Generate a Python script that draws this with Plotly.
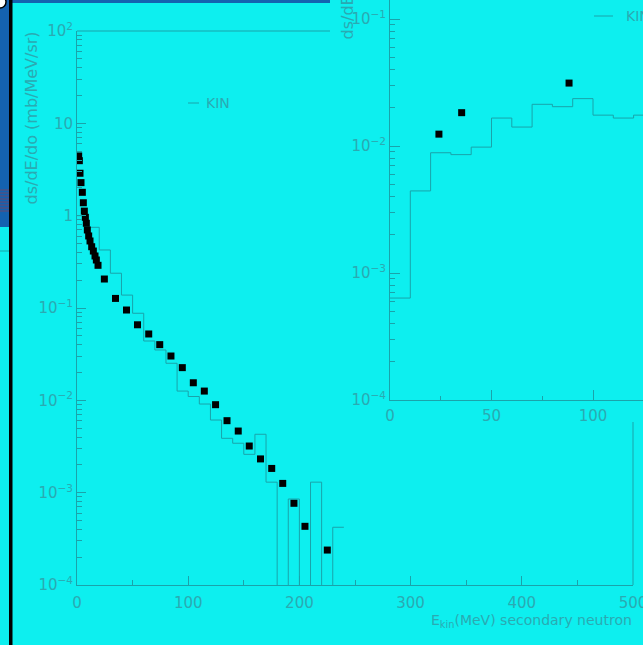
import plotly.graph_objects as go

# ---------------- data ----------------
# main panel: KIN histogram (10 MeV bins, 0..240 MeV), 0 = empty bin
main_bin_edges = list(range(0, 250, 10))
main_hist = [1.0, 0.748, 0.425, 0.238, 0.138, 0.0877, 0.0439, 0.0351, 0.0252,
             0.0126, 0.0110, 0.00912, 0.00612, 0.00388, 0.00343, 0.00260,
             0.00429, 0.00130, 0, 8.54e-4, 0, 0.00130, 0, 4.22e-4]
# main panel: measured points
main_E = [1.5, 2.1, 2.7, 3.6, 4.8, 5.7, 6.6, 7.5, 8.4, 9.3, 10.5, 11.7, 13.2,
          14.7, 16.2, 17.4, 18.9, 24.6, 34.6, 44.5, 54.4, 64.5, 74.4, 84.5,
          94.7, 104.6, 114.5, 124.6, 134.9, 145, 154.9, 165, 175.1, 185,
          195.1, 205, 225.1]
main_val = [4.43, 3.94, 2.88, 2.28, 1.79, 1.38, 1.12, 0.96, 0.827, 0.70,
            0.603, 0.532, 0.461, 0.414, 0.366, 0.331, 0.290, 0.206, 0.127,
            0.0951, 0.0658, 0.0523, 0.0401, 0.0302, 0.0226, 0.0155, 0.0126,
            0.00897, 0.00602, 0.00465, 0.00320, 0.00232, 0.00183, 0.00126,
            7.67e-4, 4.32e-4, 2.39e-4]
# inset panel
inset_bin_edges = list(range(0, 140, 10))
inset_hist = [6.35e-4, 4.43e-3, 8.85e-3, 8.55e-3, 9.8e-3, 1.66e-2, 1.41e-2,
              2.13e-2, 2.04e-2, 2.36e-2, 1.75e-2, 1.66e-2, 1.75e-2]
inset_E = [24.1, 35.3, 88.2]
inset_val = [1.24e-2, 1.83e-2, 3.13e-2]

main_x_ticks = [0, 100, 200, 300, 400, 500]
main_x_minor = [50, 150, 250, 350, 450]
main_y_ticks = [1e-4, 1e-3, 1e-2, 1e-1, 1, 10, 100]
main_y_labels = ["10<sup>−4</sup>", "10<sup>−3</sup>", "10<sup>−2</sup>",
                 "10<sup>−1</sup>", "1", "10", "10<sup>2</sup>"]
inset_x_ticks = [0, 50, 100]
inset_x_minor = [25, 75, 125]
inset_y_ticks = [1e-4, 1e-3, 1e-2, 1e-1]
inset_y_labels = ["10<sup>−4</sup>", "10<sup>−3</sup>", "10<sup>−2</sup>",
                  "10<sup>−1</sup>"]
y_title = "ds/dE/do (mb/MeV/sr)"
x_title = "E<sub>kin</sub>(MeV) secondary neutron"
legend_label = "KIN"

# ---------------- style ----------------
W, H = 643, 645
BG = "#0DEFEF"
LINE = "#1AA3AA"
TEXT = "#2AAAB2"
BLUE = "#1462B0"
FONT = "DejaVu Sans"


def px(x):
    return x / W


def py(y):
    return 1 - y / H


def step(edges, vals):
    ys = [v if v > 0 else 1e-12 for v in vals]
    return edges, ys + [ys[-1]]


minor_log = [m * 10 ** e for e in range(-5, 3) for m in range(2, 10)]

fig = go.Figure()

hx, hy = step(main_bin_edges, main_hist)
fig.add_trace(go.Scatter(x=hx, y=hy, mode="lines", line=dict(shape="hv", color=LINE, width=1),
                         xaxis="x", yaxis="y", showlegend=False, hoverinfo="skip"))
fig.add_trace(go.Scatter(x=main_E, y=main_val, mode="markers",
                         marker=dict(symbol="square", size=7, color="black"),
                         xaxis="x", yaxis="y", showlegend=False))

ix, iy = step(inset_bin_edges, inset_hist)
fig.add_trace(go.Scatter(x=ix, y=iy, mode="lines", line=dict(shape="hv", color=LINE, width=1),
                         xaxis="x2", yaxis="y2", showlegend=False, hoverinfo="skip"))
fig.add_trace(go.Scatter(x=inset_E, y=inset_val, mode="markers",
                         marker=dict(symbol="square", size=7, color="black"),
                         xaxis="x2", yaxis="y2", showlegend=False))

tickfont = dict(family=FONT, size=15, color=TEXT)

fig.update_layout(
    width=W, height=H, margin=dict(l=0, r=0, t=0, b=0, autoexpand=False),
    paper_bgcolor=BG, plot_bgcolor="rgba(0,0,0,0)",
    xaxis=dict(domain=[px(77), px(633)], range=[0, 500], anchor="y", automargin=False,
               showgrid=False, zeroline=False, showline=True, linecolor=LINE, linewidth=1,
               ticks="inside", ticklen=9, tickcolor=LINE, tickvals=main_x_ticks,
               ticktext=[str(v) for v in main_x_ticks], tickfont=tickfont,
               ticklabelstandoff=4, ticklabeloverflow="allow",
               minor=dict(tickmode="array", tickvals=main_x_minor, ticks="inside",
                          ticklen=5, tickcolor=LINE, showgrid=False)),
    yaxis=dict(domain=[py(585), py(31)], type="log", range=[-4, 2], anchor="x", automargin=False,
               showgrid=False, zeroline=False, showline=True, linecolor=LINE, linewidth=1,
               ticks="inside", ticklen=9, tickcolor=LINE, tickvals=main_y_ticks,
               ticktext=main_y_labels, tickfont=tickfont, ticklabeloverflow="allow",
               minor=dict(tickmode="array", tickvals=minor_log, ticks="inside",
                          ticklen=5, tickcolor=LINE, showgrid=False)),
    xaxis2=dict(domain=[px(390), 1], range=[0, (W - 390) / 2.03], anchor="y2", automargin=False,
                showgrid=False, zeroline=False, showline=True, linecolor=LINE, linewidth=1,
                ticks="inside", ticklen=10, tickcolor=LINE, tickvals=inset_x_ticks,
                ticktext=[str(v) for v in inset_x_ticks], tickfont=tickfont,
                ticklabelstandoff=2, ticklabeloverflow="allow",
                minor=dict(tickmode="array", tickvals=inset_x_minor, ticks="inside",
                           ticklen=4, tickcolor=LINE, showgrid=False)),
    yaxis2=dict(domain=[py(400), 1], type="log", range=[-4, -1 + 19 / 127], anchor="x2",
                automargin=False, ticklabeloverflow="allow",
                showgrid=False, zeroline=False, showline=True, linecolor=LINE, linewidth=1,
                ticks="inside", ticklen=10, tickcolor=LINE, tickvals=inset_y_ticks,
                ticktext=inset_y_labels, tickfont=tickfont,
                minor=dict(tickmode="array", tickvals=minor_log, ticks="inside",
                           ticklen=5, tickcolor=LINE, showgrid=False)),
)

shapes = []
# slide decorations
shapes.append(dict(type="rect", xref="paper", yref="paper", x0=0, x1=px(9), y0=py(227), y1=1,
                   fillcolor=BLUE, line=dict(width=0), layer="below"))
shapes.append(dict(type="rect", xref="paper", yref="paper", x0=0, x1=px(330), y0=py(3), y1=1,
                   fillcolor=BLUE, line=dict(width=0), layer="below"))
for yy in [190, 193, 196, 199, 202, 205, 208, 211]:
    shapes.append(dict(type="line", xref="paper", yref="paper", x0=0, x1=px(9),
                       y0=py(yy), y1=py(yy), line=dict(color="#5A4E7A", width=1.2), layer="below"))
shapes.append(dict(type="line", xref="paper", yref="paper", x0=0, x1=px(9), y0=py(251), y1=py(251),
                   line=dict(color=LINE, width=1), layer="below"))
shapes.append(dict(type="rect", xref="paper", yref="paper", x0=px(9), x1=px(12.5), y0=0, y1=1,
                   fillcolor="black", line=dict(width=0), layer="below"))
shapes.append(dict(type="circle", xref="paper", yref="paper", x0=px(-6), x1=px(6), y0=py(8), y1=py(-4),
                   fillcolor="white", line=dict(color="black", width=1.5)))
# partial frame of the main panel (the inset hides the rest)
shapes.append(dict(type="line", xref="x domain", yref="y domain", x0=0, x1=(330 - 77) / 556,
                   y0=1, y1=1, line=dict(color=LINE, width=1)))
shapes.append(dict(type="line", xref="x domain", yref="y domain", x0=1, x1=1,
                   y0=0, y1=(585 - 422) / 554, line=dict(color=LINE, width=1)))
# legend dashes
shapes.append(dict(type="line", xref="paper", yref="paper", x0=px(188), x1=px(199),
                   y0=py(103), y1=py(103), line=dict(color=LINE, width=1)))
shapes.append(dict(type="line", xref="paper", yref="paper", x0=px(594), x1=px(613),
                   y0=py(16), y1=py(16), line=dict(color=LINE, width=1)))
fig.update_layout(shapes=shapes)

tf = dict(family=FONT, size=14, color=TEXT)
tfy = dict(family=FONT, size=16, color=TEXT)
ann = [
    dict(text=y_title, textangle=-90, xref="paper", yref="paper", x=px(31), y=py(30),
         xanchor="center", yanchor="top", showarrow=False, font=tfy),
    dict(text=y_title, textangle=-90, xref="paper", yref="paper", x=px(347), y=py(42),
         xanchor="center", yanchor="bottom", showarrow=False, font=tfy),
    dict(text=x_title, xref="paper", yref="paper", x=px(634), y=py(621),
         xanchor="right", yanchor="middle", showarrow=False, font=tf),
    dict(text=legend_label, xref="paper", yref="paper", x=px(204), y=py(103),
         xanchor="left", yanchor="middle", showarrow=False, font=tf),
    dict(text=legend_label, xref="paper", yref="paper", x=px(624), y=py(16),
         xanchor="left", yanchor="middle", showarrow=False, font=tf),
]
fig.update_layout(annotations=ann)

fig.write_html("out.html")
